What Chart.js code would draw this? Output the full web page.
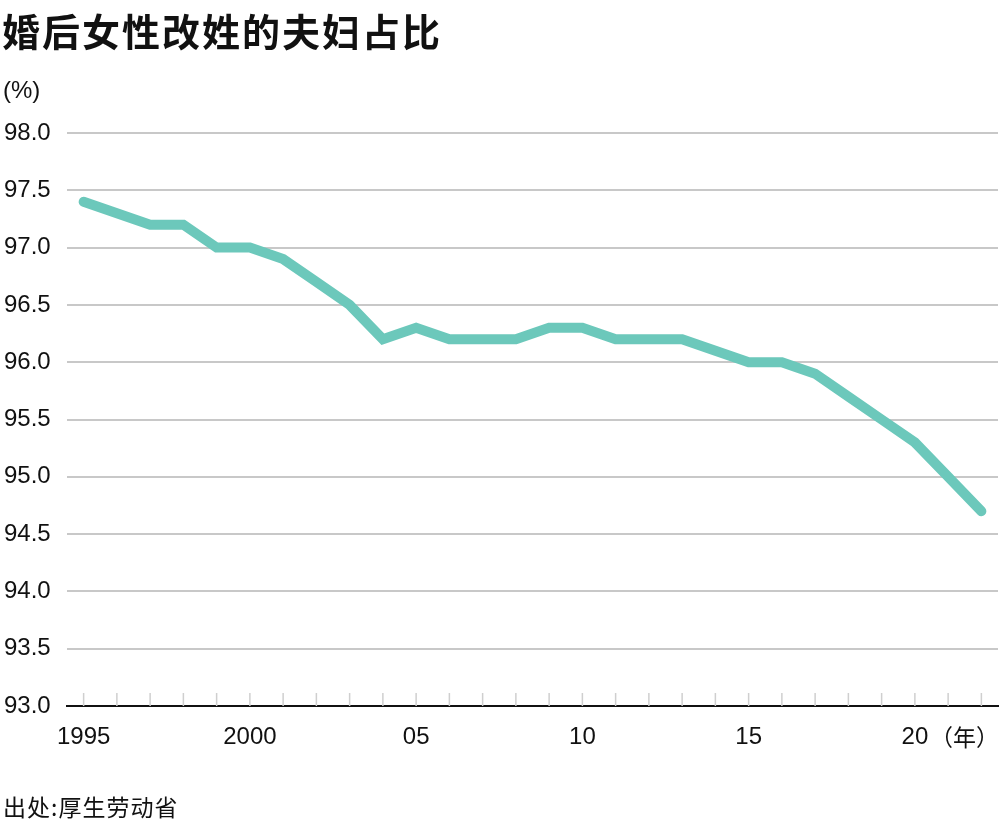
<!DOCTYPE html>
<html>
<head>
<meta charset="utf-8">
<script src="https://cdn.jsdelivr.net/npm/chart.js@4.4.0/dist/chart.umd.min.js"></script>
<style>
  html, body { margin: 0; padding: 0; background: #fff; }
  body { width: 1000px; height: 826px; position: relative; overflow: hidden;
         font-family: "Liberation Sans", "Noto Sans CJK SC", sans-serif; color: #111; }
  #wrap { position: absolute; left: 0; top: 0; width: 1000px; height: 826px; }
  .txt { position: absolute; white-space: nowrap; }
  #title { left: 2px; top: 2px; font-size: 38px; font-weight: bold; font-family: "Noto Sans CJK SC", sans-serif; letter-spacing: 2px; }
  #unit { left: 3px; top: 76px; font-size: 24px; }
  #nen { left: 930px; top: 719px; font-size: 23px; font-family: "Noto Sans CJK SC", sans-serif; }
  #src { left: 3px; top: 789px; font-size: 23px; font-family: "Noto Sans CJK SC", sans-serif; letter-spacing: 1px; }
</style>
</head>
<body>
<div id="wrap"><canvas id="c" width="1000" height="826"></canvas></div>
<div class="txt" id="title">婚后女性改姓的夫妇占比</div>
<div class="txt" id="unit">(%)</div>
<div class="txt" id="nen">（年）</div>
<div class="txt" id="src">出处:厚生劳动省</div>
<script>
const years = [1995,1996,1997,1998,1999,2000,2001,2002,2003,2004,2005,2006,2007,2008,2009,2010,2011,2012,2013,2014,2015,2016,2017,2018,2019,2020,2021,2022];
const values = [97.4,97.3,97.2,97.2,97.0,97.0,96.9,96.7,96.5,96.2,96.3,96.2,96.2,96.2,96.3,96.3,96.2,96.2,96.2,96.1,96.0,96.0,95.9,95.7,95.5,95.3,95.0,94.7];
const xTickLabels = {1995:'1995',2000:'2000',2005:'05',2010:'10',2015:'15',2020:'20'};
const yMin = 93.0, yMax = 98.0, yStep = 0.5;

const innerTicks = {
  id: 'innerTicks',
  afterDatasetsDraw(chart) {
    const x = chart.scales.x, ctx = chart.ctx;
    const yb = chart.chartArea.bottom;
    ctx.save();
    ctx.strokeStyle = '#cfcfcf';
    ctx.lineWidth = 1.5;
    years.forEach((yr, i) => {
      const px = x.getPixelForValue(i);
      ctx.beginPath();
      ctx.moveTo(px, yb - 13);
      ctx.lineTo(px, yb);
      ctx.stroke();
    });
    ctx.restore();
  }
};

new Chart(document.getElementById('c'), {
  type: 'line',
  data: {
    labels: years.map(String),
    datasets: [{
      data: values,
      borderColor: '#6cc8bb',
      borderWidth: 10,
      borderCapStyle: 'round',
      borderJoinStyle: 'miter',
      pointRadius: 0,
      tension: 0,
      fill: false
    }]
  },
  options: {
    responsive: false,
    animation: false,
    devicePixelRatio: 1,
    layout: { padding: { left: 4, right: 2, top: 133, bottom: 60 } },
    plugins: { legend: { display: false }, tooltip: { enabled: false }, title: { display: false } },
    scales: {
      x: {
        type: 'category',
        offset: true,
        grid: { display: false, drawTicks: false },
        border: { display: true, color: '#111', width: 2 },
        ticks: {
          autoSkip: false,
          maxRotation: 0,
          padding: 17,
          color: '#111',
          font: { family: '"Liberation Sans", Arial, sans-serif', size: 24 },
          callback: function(v, i) { return xTickLabels[years[i]] || ''; }
        },
        afterFit(scale) { scale.height = 60; }
      },
      y: {
        min: yMin, max: yMax,
        grid: { color: '#c8c8c8', lineWidth: 2, drawTicks: false },
        border: { display: false },
        ticks: {
          stepSize: yStep,
          crossAlign: 'far',
          padding: 0,
          color: '#111',
          font: { family: '"Liberation Sans", Arial, sans-serif', size: 24 },
          callback: v => Number(v).toFixed(1)
        },
        afterFit(scale) { scale.width = 63; }
      }
    }
  },
  plugins: [innerTicks]
});
</script>
</body>
</html>
